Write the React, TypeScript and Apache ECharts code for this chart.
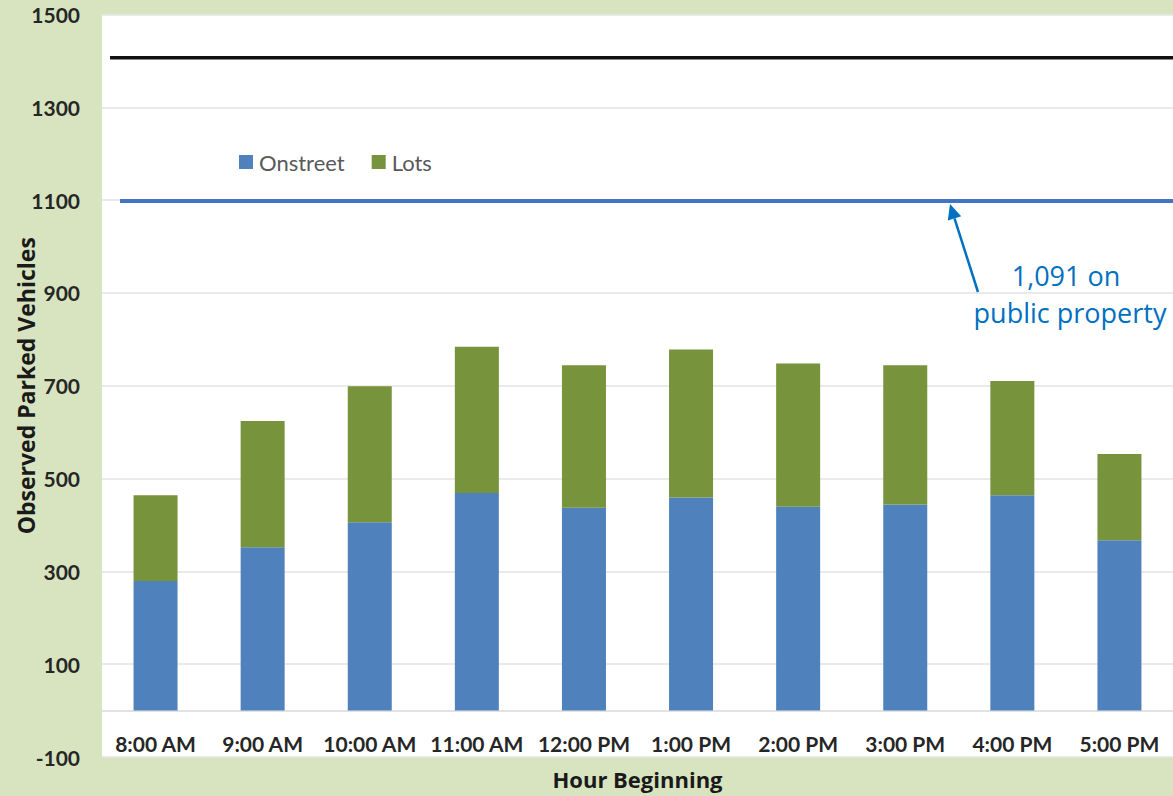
import React, { useEffect, useRef } from "react";
import * as echarts from "echarts";

const hours = ["8:00 AM", "9:00 AM", "10:00 AM", "11:00 AM", "12:00 PM", "1:00 PM", "2:00 PM", "3:00 PM", "4:00 PM", "5:00 PM"];
const onstreet = [279, 352, 406, 469, 437, 459, 439, 444, 464, 367];
const lots = [185, 272, 293, 315, 307, 319, 309, 300, 246, 186];
const totalCapacity = 1407;
const publicCapacity = 1098;
const yTicks = { min: -100, max: 1500, interval: 200 };

export default function App() {
  const ref = useRef<HTMLDivElement>(null);
  useEffect(() => {
    if (!ref.current) return;
    const chart = echarts.init(ref.current, undefined, { renderer: "svg" });
    const tickFont = { fontFamily: "Lato", fontWeight: "bold" as const, color: "#262626" };
    chart.setOption({
      animation: false,
      backgroundColor: "#d8e4bf",
      grid: {
        left: 102,
        right: 0,
        top: 14.5,
        bottom: 39,
        show: true,
        backgroundColor: "#ffffff",
        borderWidth: 0,
        containLabel: false,
        outerBoundsMode: "none",
      },
      legend: {
        data: ["Onstreet", "Lots"],
        left: 239,
        top: 151,
        padding: 0,
        itemWidth: 14,
        itemHeight: 14,
        itemGap: 27,
        icon: "rect",
        textStyle: { fontFamily: "Lato", fontSize: 22, color: "#595959", padding: [0, 0, 0, 1] },
      },
      xAxis: [
        {
          type: "category",
          data: hours,
          offset: -46.4,
          axisLine: { onZero: false, lineStyle: { color: "#d9d9d9", width: 1.5 } },
          axisTick: { show: false },
          axisLabel: { ...tickFont, fontSize: 21, margin: 22, interval: 0 },
          name: "Hour Beginning",
          nameLocation: "middle",
          nameGap: 57,
          nameMoveOverlap: false,
          nameTextStyle: { fontFamily: "Open Sans", fontWeight: "bold", fontSize: 22, color: "#1a1a1a" },
        },
        { type: "value", min: 0, max: 1, show: false },
      ],
      yAxis: {
        type: "value",
        min: yTicks.min,
        max: yTicks.max,
        interval: yTicks.interval,
        axisLine: { show: false },
        axisTick: { show: false },
        axisLabel: { ...tickFont, fontSize: 21, margin: 22, formatter: (v: number) => String(v) },
        splitLine: { lineStyle: { color: "#e3e3e3", width: 1.5 } },
        name: "Observed Parked Vehicles",
        nameLocation: "middle",
        nameGap: 65,
        nameMoveOverlap: false,
        nameTextStyle: { fontFamily: "Open Sans", fontWeight: "bold", fontSize: 23, color: "#1a1a1a" },
      },
      series: [
        {
          name: "Onstreet",
          type: "bar",
          stack: "total",
          data: onstreet,
          barWidth: 44,
          itemStyle: { color: "#4f81bd" },
        },
        {
          name: "Lots",
          type: "bar",
          stack: "total",
          data: lots,
          barWidth: 44,
          itemStyle: { color: "#77933c" },
        },
        {
          name: "Total capacity",
          type: "line",
          xAxisIndex: 1,
          data: [[0.0075, totalCapacity], [1, totalCapacity]],
          symbol: "none",
          lineStyle: { color: "#111111", width: 3.5 },
          z: 5,
        },
        {
          name: "Public capacity",
          type: "line",
          xAxisIndex: 1,
          data: [[0.0168, publicCapacity], [1, publicCapacity]],
          symbol: "none",
          lineStyle: { color: "#4472c4", width: 4 },
          z: 5,
        },
      ],
      graphic: [
        {
          type: "line",
          shape: { x1: 978, y1: 292, x2: 954.5, y2: 218.3 },
          style: { stroke: "#0070c0", lineWidth: 2.5 },
          z: 10,
        },
        {
          type: "polygon",
          shape: { points: [[950, 204], [961.2, 216.2], [947.8, 220.4]] },
          style: { fill: "#0070c0" },
          z: 10,
        },
        {
          type: "text",
          x: 1066,
          y: 275,
          style: { text: "1,091 on", fill: "#0070c0", font: "27px 'Open Sans'", align: "center", verticalAlign: "middle" },
          z: 10,
        },
        {
          type: "text",
          x: 1070,
          y: 312,
          style: { text: "public property", fill: "#0070c0", font: "27px 'Open Sans'", align: "center", verticalAlign: "middle" },
          z: 10,
        },
      ],
    });
    return () => chart.dispose();
  }, []);
  return <div ref={ref} style={{ position: "fixed", left: 0, top: 0, width: 1173, height: 796 }} />;
}
